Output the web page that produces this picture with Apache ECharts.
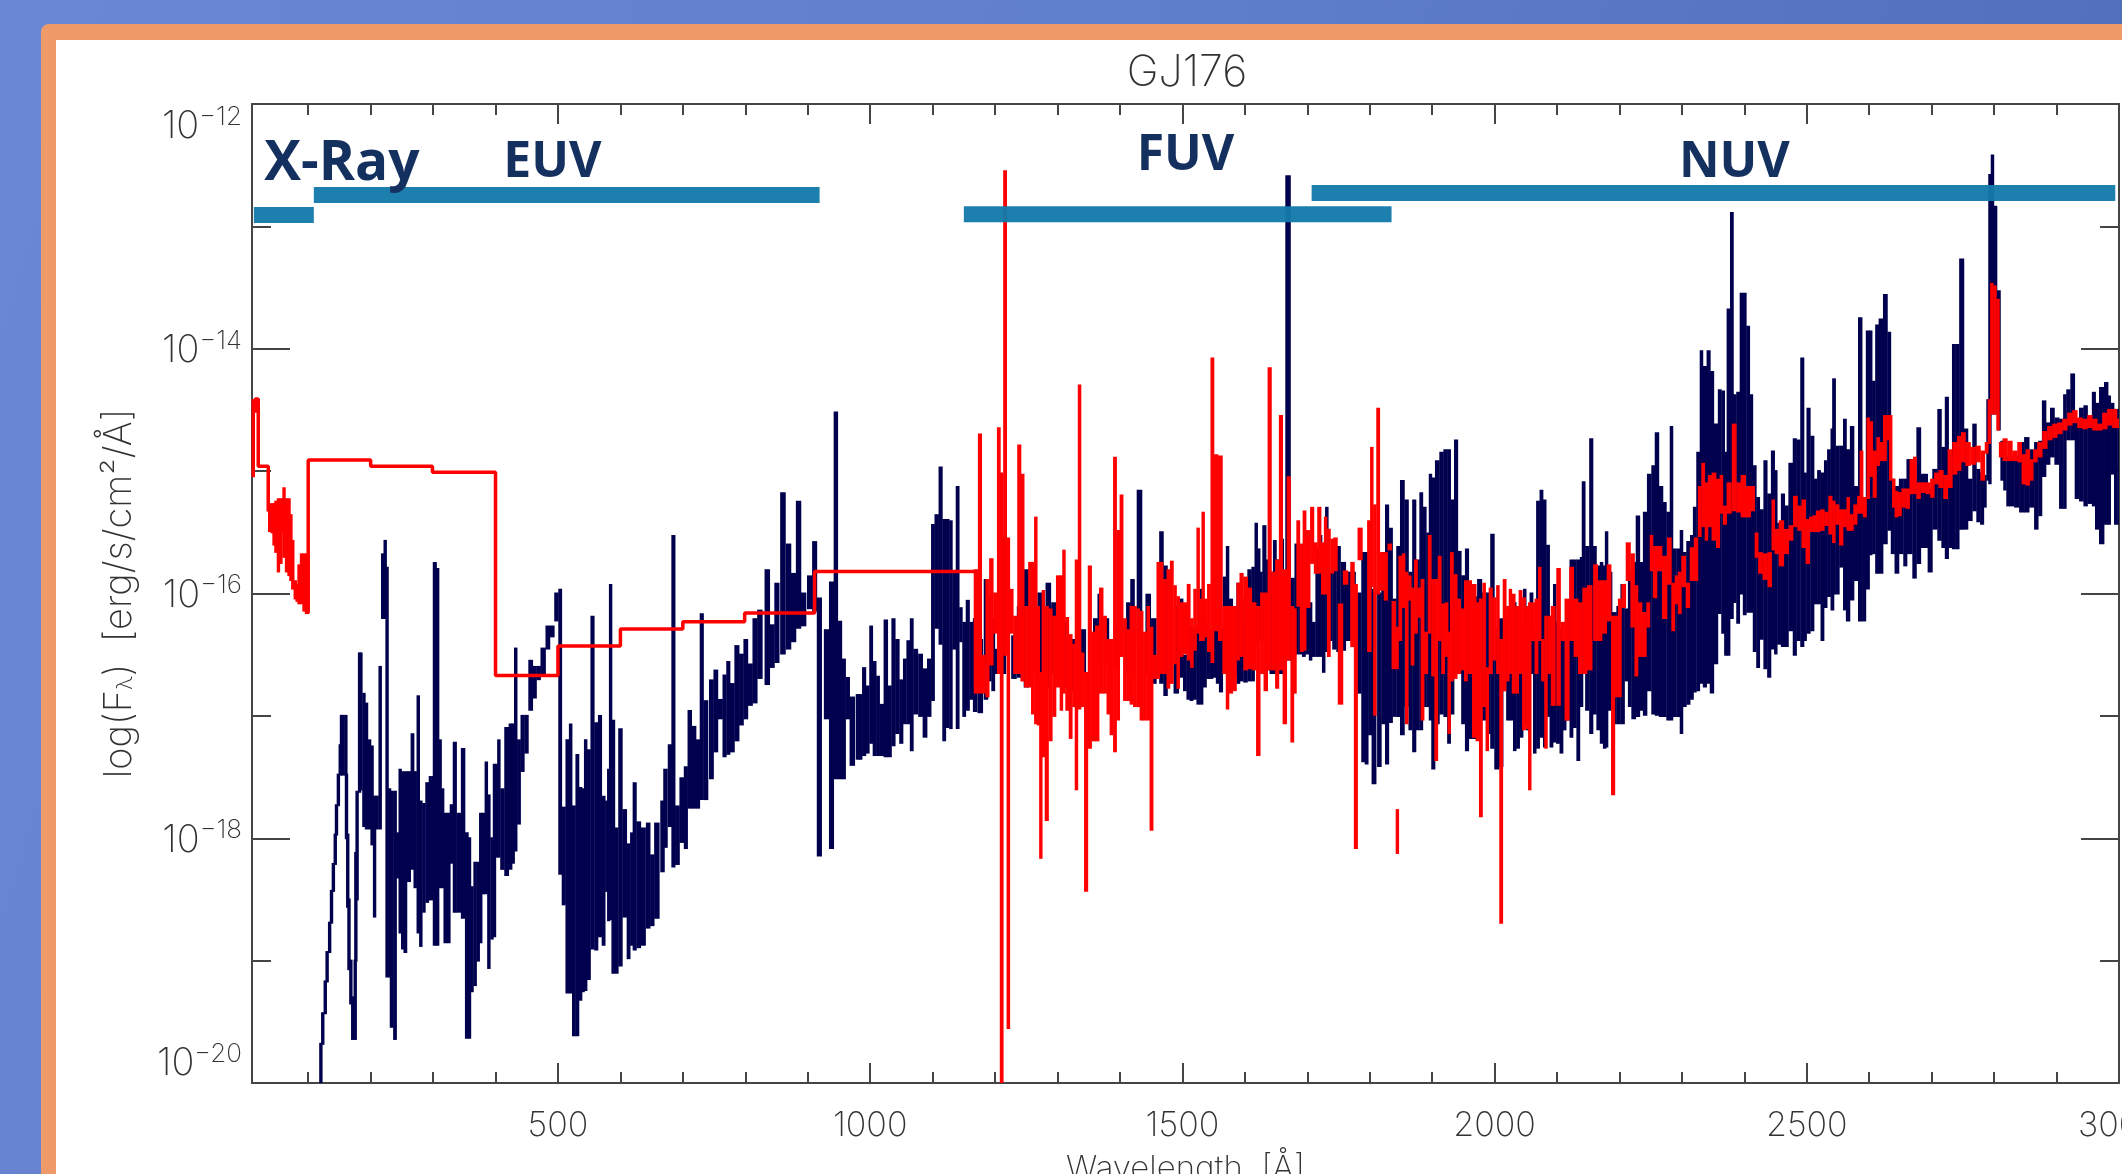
<!DOCTYPE html>
<html>
<head>
    <meta charset="UTF-8">
    <title>GJ176</title>
    <script type="text/javascript" src="https://cdn.jsdelivr.net/npm/echarts@6/dist/echarts.min.js"></script>
    <style>
        html, body { margin: 0; padding: 0; background: #fff; overflow: hidden; }
        #main { width: 2122px; height: 1174px; }
    </style>
</head>
<body>
    <div id="main"></div>
    <script type="text/javascript">
// each row: wavelength (A), low and high log10 flux of that spectrum column
var blueSpectrum = [
[120,-20,-19.68],[123,-19.68,-19.43],[127,-19.43,-19.17],[130,-19.17,-18.93],[134,-18.93,-18.69],[137,-18.69,-18.43],[140,-18.43,-18.21],[143,-18.21,-17.97],[145,-17.97,-17.73],[148,-17.73,-17.48],[151,-17.48,-17.24],[153,-17.24,-17],
[155,-17.48,-17],[160,-17.48,-17],[161,-18,-17.48],[163,-18.56,-17.97],[165,-19.07,-18.5],[168,-19.35,-19],[171,-19.64,-19.3],[175,-19.64,-19],[176,-19,-18.12],[178,-18.5,-17.62],[182,-17.62,-16.49],[184,-17.6,-16.49],[189,-17.9,-16.82],[193,-17.92,-16.9],[198,-17.92,-17.2],[202,-18.05,-17.25],[206,-18.64,-17.66],[210,-17.92,-17.66],[215,-17.92,-16.6],[219,-16.2,-15.68],[223,-16.2,-15.57],[226,-19.13,-15.79],[230,-19.13,-17.6],[233,-19.54,-17.62],[239,-19.64,-17.62],
[243,-18.32,-17.96],[247,-18.77,-17.44],[251,-18.9,-17.46],[255,-18.93,-17.46],[261,-18.35,-17.46],[267,-18.25,-17.15],[271,-18.4,-17.46],[276,-18.77,-16.84],[280,-18.88,-17.7],[285,-18.6,-17.72],[290,-18.52,-17.55],[296,-18.5,-17.5],[303,-18.87,-15.75],[307,-18.87,-15.8],[311,-18.4,-17.2],[315,-18.4,-17.6],[319,-18.85,-17.8],[325,-18.85,-17.8],[329,-18.2,-17.73],[334,-18.6,-17.22],[341,-18.6,-17.8],[348,-18.65,-17.27],[354,-19.63,-17.96],[358,-19.63,-18],[362,-19.25,-18.4],[367,-19.2,-18.2],[372,-19,-18.2],[376,-18.85,-17.8],[380,-18.45,-17.8],[385,-18.45,-17.38],[389,-19.06,-17.65],[394,-18.82,-18],[398,-18.8,-17.4],[402,-18.15,-17.4],[405,-18.15,-17.2],[410,-18.25,-17.6],[418,-18.3,-17.1],[424,-18.25,-17.07],[428,-18.2,-17.07],[432,-18.1,-16.45],[437,-17.88,-17.2],[443,-17.45,-17],[449,-17.3,-17],[456,-16.95,-16.55],[463,-16.85,-16.6],[468,-16.7,-16.6],[476,-16.65,-16.45],[484,-16.45,-16.27],[490,-16.35,-16.27],[498,-16.22,-16],
[503,-18.29,-15.97],[509,-18.54,-17.75],[515,-19.26,-17.2],[520,-19.26,-17.07],[525,-19.61,-17.74],[531,-19.61,-17.32],[536,-19.32,-17.59],[540,-19.25,-17.6],[544,-19.24,-17.2],[549,-19.15,-17.28],[555,-18.9,-16.19],[561,-18.91,-17.06],[567,-18.8,-17],[573,-18.87,-17.66],[578,-18.43,-17.7],[581,-18.67,-17.44],[584,-18.66,-15.93],[588,-19.1,-17.04],[594,-19.1,-17.92],[599,-19.04,-17.11],[607,-18.64,-17.77],[613,-18.98,-18.05],[618,-18.87,-17.96],[622,-18.91,-17.55],[629,-18.89,-17.87],[636,-18.87,-17.92],[645,-18.73,-17.88],[650,-18.71,-18.14],[658,-18.65,-17.88],[668,-18.27,-17.7],[671,-18.07,-17.44],[680,-17.9,-17.24],[684,-18.23,-15.53],[691,-18.21,-17.74],[698,-18.03,-17.51],[705,-18.08,-17.42],[710,-17.75,-16.96],[718,-17.75,-17.09],[724,-17.75,-17.2],[730,-17.68,-16.17],[736,-17.68,-16.88],[746,-17.51,-16.71],[752,-17.29,-16.63],[760,-17.02,-16.87],[767,-17.33,-16.67],[772,-17.31,-16.56],[779,-17.29,-16.74],[786,-17.2,-16.43],[794,-17.07,-16.5],[800,-17.02,-16.38],[808,-16.91,-16.58],[815,-16.89,-16.21],[823,-16.69,-16.14],[835,-16.74,-15.81],[843,-16.6,-16.26],[850,-16.56,-15.92],[860,-16.49,-15.18],[869,-16.45,-15.6],[877,-16.39,-15.84],[885,-16.28,-15.25],[893,-16.26,-16],[903,-16.12,-15.86],[911,-16.14,-15.58],
[918,-18.14,-16.04],[930,-17.02,-16.3],[938,-18.08,-15.91],[945,-17.51,-14.52],[951,-17.51,-16.23],[958,-17.51,-16.54],[963,-17.02,-16.69],[971,-17.4,-16.85],[981,-17.35,-16.83],
[984,-17.35,-16.83],[990,-17.32,-16.61],[996,-17.3,-16.76],[1001,-17.22,-16.27],[1007,-17.32,-16.56],[1012,-17.32,-16.68],[1018,-17.32,-16.91],[1025,-17.33,-16.22],[1031,-17.33,-16.76],[1037,-17.24,-16.21],[1043,-17.14,-16.38],[1050,-17.22,-16.71],[1055,-17.06,-16.54],[1061,-17.06,-16.39],[1066,-17.28,-16.21],[1072,-16.98,-16.46],[1081,-17,-16.5],[1087,-17.17,-16.62],[1095,-17,-16.54],[1100,-16.87,-15.44],[1106,-16.28,-15.36],[1113,-16.41,-14.97],[1118,-17.2,-15.4],[1124,-17.09,-15.4],[1129,-17.1,-15.41],[1134,-16.45,-15.83],[1140,-17.1,-15.13],[1145,-16.39,-16.12],[1150,-17,-16.24],[1156,-16.95,-16.06],[1162,-16.86,-16.24],[1167,-16.96,-16.21],[1176,-16.97,-16.38],[1186,-16.86,-15.89],[1191,-16.71,-16.03],[1197,-16.79,-16.21],[1202,-16.65,-16.46],[1213,-16.65,-15.55],[1230,-16.69,-16.35],[1239,-16.68,-16.11],[1250,-16.76,-15.81],[1259,-16.65,-15.78],[1272,-16.76,-16],[1285,-16.76,-15.92],[1294,-16.65,-16.08],[1309,-16.76,-16.24],[1325,-16.79,-16.38],[1341,-16.65,-16.3],[1361,-16.65,-16.21],[1367,-16.65,-16.01],[1378,-16.57,-16.21],[1394,-16.62,-16.27],[1414,-16.65,-16.08],[1419,-16.65,-15.89],[1431,-16.43,-15.16],[1445,-16.65,-16.01],[1454,-16.73,-16.21],[1467,-16.73,-15.5],[1472,-16.83,-15.78],[1480,-16.71,-16.11],[1490,-16.81,-16.11],
[1498,-16.68,-16.05],[1504,-16.79,-16.51],[1509,-16.86,-16.24],[1514,-16.87,-16.27],[1520,-16.86,-16.3],[1525,-16.9,-16.27],[1530,-16.9,-15.97],[1536,-16.76,-16.3],[1541,-16.69,-16.24],[1546,-16.69,-16.3],[1552,-16.68,-16.11],[1556,-16.73,-15.67],[1561,-16.8,-16.3],[1568,-16.61,-15.87],[1572,-16.61,-15.62],[1577,-16.54,-16.05],[1584,-16.65,-16.11],[1589,-16.73,-15.92],[1595,-16.71,-16.27],[1600,-16.72,-16.05],[1608,-16.71,-15.81],[1613,-16.71,-15.79],[1618,-16.41,-15.43],[1622,-16.38,-15.64],[1625,-16.38,-15.83],[1631,-16.38,-15.45],[1637,-16.62,-15.73],[1642,-16.65,-15.83],[1648,-16.65,-15.57],[1653,-16.65,-15.73],[1658,-16.65,-15.56],[1669,-16.54,-12.59],[1677,-16.54,-15.88],[1682,-16.49,-15.6],[1689,-16.49,-15.83],[1694,-16.51,-15.94],[1700,-16.49,-16.11],[1705,-16.54,-16.08],[1710,-16.51,-16.24],[1716,-16.51,-15.64],[1721,-16.51,-15.53],[1726,-16.64,-15.83],[1731,-16.47,-15.3],[1736,-16.38,-15.83],[1744,-16.45,-15.62],[1749,-16.47,-15.62],[1758,-16.46,-15.75],[1765,-16.38,-15.83],[1773,-16.38,-15.83],[1784,-16.81,-16],[1789,-17.37,-15.67],[1795,-17.39,-15.67],[1800,-17.15,-15.67],[1806,-17.55,-15.97],[1816,-17.41,-16],[1821,-17.06,-15.67],[1828,-17.39,-15.28],[1833,-17.05,-15.47],[1840,-17,-16.05],[1845,-17,-15.62],[1852,-17.15,-15.08],[1859,-16.92,-15.24],[1865,-17.11,-15.83],[1871,-17.29,-15.24],[1877,-17.11,-15.73],[1882,-17.11,-15.18],[1888,-16.92,-15.3],[1893,-16.92,-15.51],[1897,-17.03,-15.03],[1901,-17.43,-15.06],[1908,-17.06,-14.92],[1915,-16.98,-14.85],[1921,-17,-14.83],[1927,-17.22,-14.83],[1932,-16.98,-15.24],[1938,-16.65,-14.75],[1944,-16.65,-15.66],[1949,-17.06,-15.86],[1956,-17.28,-15.64],[1961,-17.18,-16.03],[1968,-17.18,-16.03],[1976,-17,-15.89],[1983,-17.03,-16],[1990,-17.14,-16],[1996,-17.26,-15.52],[2003,-17.43,-16.3],
[2011,-17.41,-16.21],[2016,-16.79,-16.16],[2021,-17.03,-16.21],[2027,-17.03,-16.38],[2032,-17.28,-16.08],[2037,-17.26,-16.38],[2043,-17.17,-16.24],[2048,-17.06,-15.97],[2053,-17.11,-16.16],[2059,-16.65,-16],[2064,-17.3,-16.3],[2069,-17.26,-15.25],[2075,-17.17,-15.16],[2080,-17.25,-15.24],[2085,-17,-15.61],[2091,-17.25,-16.19],[2096,-17.21,-15.93],[2101,-17.22,-16.24],[2107,-17.3,-16.3],[2112,-17.11,-16.38],[2117,-17.03,-16.11],[2123,-17.17,-15.73],[2128,-17.09,-15.73],[2134,-17.36,-15.73],[2139,-16.92,-15.71],[2142,-16.65,-15.09],[2148,-16.95,-15.62],[2155,-17.14,-14.74],[2160,-16.98,-15.62],[2166,-17.11,-15.78],[2171,-17.22,-15.75],[2176,-17.26,-15.78],[2179,-17.25,-15.5],[2184,-16.95,-15.83],[2192,-17.06,-16.16],[2198,-17.06,-16.11],[2205,-17.06,-15.93],[2211,-16.71,-16.13],[2216,-16.92,-15.83],[2222,-17.02,-15.75],[2230,-17,-15.37],[2235,-16.95,-15.75],[2240,-16.99,-15.34],[2248,-16.79,-15.03],[2254,-16.98,-14.96],[2259,-16.99,-14.69],[2267,-17,-15.13],[2272,-17,-15.26],[2278,-17.03,-15.34],[2283,-17.03,-14.64],[2288,-17,-15.64],[2294,-17,-15.64],[2299,-17.14,-15.49],[2304,-16.92,-15.67],[2310,-16.9,-15.58],[2316,-16.86,-15.53],[2320,-16.8,-15.3],[2326,-16.79,-14.85],[2331,-16.73,-14.02],[2336,-16.76,-14.15],[2343,-16.73,-14.02],[2347,-16.81,-14.19],[2355,-16.57,-14.62],[2360,-16.16,-14.34],[2366,-16.32,-14.35],[2370,-16.5,-14.85],[2374,-16.5,-13.68],[2380,-16.2,-12.89],[2384,-16.07,-14.38],[2390,-16.24,-14.36],[2395,-16,-13.55],[2400,-16.17,-13.55],[2406,-16.15,-13.82],[2411,-16.15,-14.38],[2416,-16.47,-14.96],[2422,-16.6,-15.22],[2427,-16.37,-15.32],[2434,-16.61,-14.92],[2439,-16.68,-15.19],[2446,-16.45,-14.84],[2450,-16.49,-15],[2455,-16.41,-15.43],[2462,-16.43,-15.19],[2467,-16.43,-15.29],[2474,-16.3,-14.94],[2481,-16.5,-14.74],[2486,-16.38,-14.75],[2493,-16.43,-14.08],[2497,-16.38,-15.02],[2502,-16.32,-14.49],
[2509,-16.3,-14.72],[2514,-16.08,-15.07],[2519,-16.08,-15],[2525,-16.38,-15.02],[2530,-16.11,-14.92],[2535,-16.02,-14.83],[2541,-16.13,-14.66],[2543,-16,-14.25],[2549,-16,-14.8],[2555,-15.78,-14.8],[2561,-16.13,-14.58],[2565,-16.22,-14.83],[2573,-16.05,-14.64],[2578,-15.89,-15.13],[2586,-16.22,-13.75],[2591,-16.22,-15.22],[2598,-15.96,-13.86],[2602,-15.68,-13.86],[2607,-15.67,-14.27],[2612,-15.83,-13.81],[2618,-15.83,-13.76],[2626,-15.59,-13.56],[2632,-15.48,-13.87],[2637,-15.67,-15.07],[2644,-15.83,-15.13],[2651,-15.67,-15.07],[2658,-15.77,-15.07],[2662,-15.67,-14.91],[2666,-15.67,-14.91],[2672,-15.87,-15.15],[2679,-15.75,-14.65],[2686,-15.62,-15.03],[2690,-15.62,-15.03],[2697,-15.82,-15.15],[2705,-15.47,-14.99],[2713,-15.56,-14.5],[2718,-15.62,-14.81],[2724,-15.71,-14.4],[2730,-15.62,-14.94],[2735,-15.63,-13.97],[2740,-15.63,-13.97],[2748,-15.47,-13.27],[2755,-15.47,-14.66],[2761,-15.4,-15.07],[2769,-15.32,-14.62],[2774,-15.41,-14.99],[2781,-15.43,-15.02],[2785,-15.29,-15.04],[2790,-15.07,-14.42],[2793,-15.1,-12.58],[2797,-14.53,-12.42],[2802,-14.53,-12.84],[2807,-14.66,-13.53],[2813,-15.07,-14.76],[2817,-15.15,-14.88],[2822,-15.28,-14.88],[2828,-15.28,-14.88],[2836,-15.29,-14.88],[2844,-15.33,-14.77],[2852,-15.33,-14.73],[2860,-15.29,-14.83],[2868,-15.47,-14.77],[2873,-15.36,-14.76],[2880,-15.04,-14.43],[2886,-14.94,-14.61],[2893,-14.88,-14.49],[2900,-14.94,-14.57],[2908,-15.3,-14.58],[2913,-15.3,-14.38],[2918,-14.74,-14.34],[2926,-14.74,-14.21],[2932,-15.22,-14.58],[2940,-15.24,-14.49],[2946,-15.28,-14.47],[2953,-15.26,-14.64],[2960,-15.28,-14.36],[2964,-15.47,-14.45],[2972,-15.59,-14.32],[2980,-15.43,-14.28],[2984,-15.43,-14.39],[2989,-15.02,-14.45],[2995,-15.43,-14.5],[3000,-15.43,-14.5]
];

var redSpectrum = [
[38,-15.49,-15.27],[42,-15.5,-15.27],[45,-15.6,-15.27],[48,-15.66,-15.25],[52,-15.82,-15.23],[56,-15.75,-15.23],[59,-15.49,-15.23],[61,-15.7,-15.14],[65,-15.82,-15.23],[69,-15.85,-15.23],[72,-15.89,-15.36],[75,-15.96,-15.57],[79,-16.04,-15.9],[82,-16.06,-15.93],[85,-16.08,-15.77],[89,-16.08,-15.68],[93,-16.14,-15.68],[97,-16.16,-15.68],
[1170,-16.81,-15.81],[1175,-16.81,-14.7],[1182,-16.81,-16.51],[1187,-16.84,-15.89],[1194,-16.58,-15.72],[1200,-16.32,-16],[1206,-16.65,-14.65],[1210,-20,-15.02],[1216,-16.5,-12.55],[1221,-19.55,-15.55],[1226,-16.32,-15.97],[1232,-16.65,-16.19],[1239,-16.65,-14.79],[1243,-16.71,-15.03],[1250,-16.76,-16.11],[1256,-16.76,-15.75],[1260,-16.98,-15.75],[1265,-17.06,-15.38],[1269,-17.07,-16.11],[1273,-18.16,-16.65],[1277,-17.33,-15.98],[1282,-17.85,-16.11],[1289,-17.2,-16.13],[1294,-17,-16.19],[1301,-16.76,-15.86],[1306,-16.95,-15.86],[1310,-16.81,-15.65],[1315,-16.95,-16.2],[1321,-17.18,-16.34],[1326,-16.92,-16.42],[1330,-17.6,-15.73],[1335,-16.94,-14.3],[1340,-16.92,-16.49],[1345,-18.43,-16.65],[1352,-17.26,-15.78],[1357,-17.2,-16.32],[1363,-17.2,-16.27],[1370,-16.81,-15.96],[1376,-16.81,-16.19],[1381,-16.98,-16.38],[1386,-17.15,-16.38],[1392,-17.29,-14.89],[1397,-17.03,-15.49],[1402,-16.51,-15.2],[1408,-16.87,-16.21],[1413,-16.87,-16.3],[1418,-16.9,-16.11],[1424,-16.92,-16.11],[1429,-16.92,-16.13],[1434,-17.03,-16.15],[1440,-17.03,-16.32],[1445,-17.03,-16.11],[1450,-17.93,-16.28],[1456,-16.69,-16.51],[1461,-16.69,-15.75],[1466,-16.65,-15.75],[1472,-16.65,-15.89],[1477,-16.77,-15.81],[1483,-16.73,-15.74],[1488,-16.57,-15.94],[1493,-16.77,-16.03],
[1498,-16.51,-16.08],[1504,-16.49,-16.08],[1510,-16.54,-15.93],[1515,-16.6,-16.21],[1520,-16.46,-15.97],[1525,-16.32,-15.47],[1529,-16.38,-16.05],[1533,-16.38,-15.34],[1537,-16.35,-16.05],[1542,-16.47,-15.93],[1548,-16.56,-14.08],[1553,-16.3,-14.87],[1561,-16.38,-14.88],[1567,-16.65,-16.11],[1572,-16.94,-16.11],[1577,-16.81,-16.11],[1584,-16.79,-16.11],[1589,-16.54,-15.92],[1594,-16.51,-15.84],[1601,-16.62,-15.87],[1608,-16.61,-15.96],[1614,-16.62,-16.08],[1622,-17.32,-16.11],[1627,-16.65,-16],[1633,-16.79,-16],[1640,-16.62,-14.16],[1645,-16.62,-15.83],[1652,-16.77,-15.73],[1657,-16.62,-14.55],[1664,-17.06,-15.81],[1670,-16.54,-15.05],[1676,-17.21,-16.11],[1680,-16.81,-16.13],[1685,-16.1,-15.41],[1691,-16.47,-15.6],[1695,-16.46,-15.33],[1701,-16.11,-15.49],[1708,-15.75,-15.3],[1713,-15.83,-15.59],[1719,-15.83,-15.3],[1725,-16,-15.59],[1729,-16,-15.38],[1734,-16.51,-15.48],[1740,-15.83,-15.56],[1744,-15.81,-15.55],[1753,-16.9,-16.09],[1761,-15.92,-15.82],[1773,-16.43,-15.75],[1777,-18.08,-15.93],[1784,-15.72,-15.47],[1800,-16.47,-15.41],[1803,-15.94,-14.81],[1808,-16.99,-15.28],[1813,-16,-14.49],[1819,-15.97,-15.67],[1826,-16.05,-15.67],[1831,-15.64,-15.6],[1839,-16.61,-16.07],[1843,-16.61,-16.28],[1849,-16.38,-15.7],[1854,-16.11,-15.68],[1859,-17.06,-15.83],[1864,-16.05,-15.86],[1868,-16.58,-15.96],[1874,-16.32,-15.73],[1879,-16.19,-15.96],[1884,-17.03,-15.89],[1890,-16.65,-16.32],[1896,-16.32,-15.53],[1901,-16.67,-15.89],[1906,-17.36,-15.89],[1912,-16.38,-15.7],[1917,-16.65,-16.09],[1923,-16.51,-16.08],[1927,-17.14,-16.32],[1931,-16.71,-15.67],[1937,-16.69,-15.85],[1943,-16.65,-16.05],[1948,-16.62,-16.13],[1954,-16.71,-15.9],[1959,-16.65,-15.9],[1968,-17.17,-15.93],[1972,-17.2,-16.08],[1978,-17.82,-16.05],[1983,-16.92,-15.92],[1988,-17.28,-16.61],[1993,-16.65,-15.96],[2000,-16.54,-16.04],[2005,-16.65,-15.94],
[2010,-18.69,-16.38],[2016,-16.79,-15.89],[2021,-16.71,-16.11],[2025,-16.65,-15.97],[2030,-16.81,-16.01],[2036,-16.81,-16.11],[2041,-16.65,-15.98],[2047,-17.11,-16.04],[2052,-17.1,-16.11],[2056,-17.6,-16.08],[2061,-16.38,-16.08],[2067,-16.65,-16.05],[2072,-16.38,-15.79],[2077,-16.71,-16.38],[2082,-17.26,-16.19],[2087,-16.65,-16.19],[2093,-16.91,-16.11],[2103,-16.91,-15.8],[2108,-16.38,-16.24],[2116,-17.03,-16.05],[2123,-16.38,-15.79],[2130,-16.51,-16.05],[2137,-16.65,-16.08],[2144,-16.65,-15.96],[2152,-16.62,-15.94],[2162,-16.38,-15.77],[2168,-16.38,-15.9],[2176,-16.32,-15.9],[2183,-16.22,-15.77],[2190,-17.64,-16.19],[2195,-16.84,-16.19],[2200,-16.84,-16.05],[2206,-16.11,-15.93],[2214,-15.89,-15.59],[2221,-16.27,-15.68],[2227,-16.67,-15.94],[2232,-16.51,-16.08],[2240,-16.51,-16.16],[2246,-16.27,-16.08],[2251,-15.81,-15.53],[2256,-16.03,-15.62],[2264,-15.81,-15.62],[2272,-16.2,-15.7],[2280,-15.92,-15.55],[2286,-16.3,-15.92],[2291,-16.08,-15.86],[2296,-16.16,-15.83],[2302,-15.94,-15.7],[2310,-16.11,-15.92],[2315,-15.89,-15.63],[2323,-15.89,-15.55],[2328,-15.53,-15.13],[2334,-15.45,-14.94],[2339,-15.56,-15.1],[2344,-15.45,-15.04],[2351,-15.56,-15.02],[2358,-15.62,-15.07],[2363,-15.34,-15.04],[2368,-15.43,-15.29],[2375,-15.34,-15.1],[2384,-15.32,-14.62],[2390,-15.33,-15.1],[2398,-15.37,-15.04],[2406,-15.37,-15.13],[2414,-15.32,-15.13],[2419,-15.7,-15.51],[2425,-15.83,-15.67],[2433,-15.88,-15.68],[2441,-15.94,-15.67],[2446,-15.64,-15.24],[2451,-15.67,-15.48],[2459,-15.77,-15.41],[2467,-15.67,-15.48],[2475,-15.56,-15.45],[2481,-15.45,-15.21],[2489,-15.48,-15.29],[2494,-15.62,-15.24],[2502,-15.75,-15.4],
[2506,-15.49,-15.38],[2511,-15.49,-15.37],[2518,-15.49,-15.33],[2525,-15.48,-15.32],[2531,-15.44,-15.34],[2538,-15.51,-15.21],[2543,-15.58,-15.25],[2548,-15.43,-15.28],[2555,-15.6,-15.32],[2561,-15.45,-15.32],[2566,-15.48,-15.22],[2571,-15.48,-15.36],[2578,-15.43,-15.28],[2583,-15.34,-15.21],[2587,-15.34,-14.84],[2593,-15.37,-15.22],[2598,-15.22,-14.57],[2602,-15.04,-14.6],[2609,-15.21,-14.84],[2614,-14.95,-14.73],[2619,-14.91,-14.77],[2625,-14.91,-14.55],[2630,-14.74,-14.55],[2634,-15.07,-14.55],[2639,-15.29,-15.07],[2643,-15.37,-15.17],[2649,-15.36,-15.18],[2654,-15.29,-15.15],[2662,-15.3,-15.15],[2667,-15.18,-14.91],[2673,-15.18,-14.89],[2678,-15.22,-15.1],[2686,-15.17,-15.1],[2694,-15.18,-15.1],[2701,-15.21,-15.07],[2707,-15.1,-15.02],[2715,-15.13,-15],[2722,-15.22,-15.04],[2729,-15.13,-14.83],[2737,-15.02,-14.77],[2744,-14.99,-14.72],[2750,-14.92,-14.69],[2758,-14.95,-14.77],[2766,-14.94,-14.81],[2774,-14.92,-14.8],[2782,-15.07,-14.84],[2788,-14.85,-14.77],[2792,-14.77,-14.42],[2796,-14.53,-13.47],[2801,-14.53,-13.49],[2806,-14.66,-13.6],[2810,-14.88,-14.77],[2817,-14.91,-14.74],[2825,-14.91,-14.76],[2833,-14.91,-14.84],[2841,-14.92,-14.77],[2847,-15.1,-14.87],[2854,-15.11,-14.83],[2860,-15.07,-14.91],[2865,-14.92,-14.83],[2873,-14.88,-14.77],[2881,-14.81,-14.68],[2889,-14.74,-14.64],[2897,-14.72,-14.62],[2905,-14.69,-14.61],[2913,-14.66,-14.58],[2921,-14.62,-14.53],[2929,-14.6,-14.51],[2937,-14.64,-14.57],[2945,-14.65,-14.58],[2953,-14.64,-14.55],[2961,-14.66,-14.58],[2969,-14.66,-14.62],[2977,-14.65,-14.53],[2985,-14.62,-14.5],[2993,-14.64,-14.5],[3000,-14.64,-14.58]
];

// the stepped parts of the red curve, drawn as a line: X-ray start and the EUV bins
var redStepsXray = [[12,-15.05,-14.41],[15,-14.52,-14.41],[20,-14.96,-14.96],[36,-15.33,-15.33]];
var redStepsEuv = [[100,-16.16,-14.91],[200,-14.96,-14.96],[299,-15.01,-15.01],[400,-16.67,-16.67],[500,-16.67,-16.43],[600,-16.43,-16.29],[700,-16.29,-16.23],[799,-16.23,-16.16],[911,-16.16,-15.82],[1170,-16.81,-15.81]];

// the short red piece standing alone below the main curve
var redIsolated = [[1844,-18.12,-17.77]];

var bandNames = ['X-Ray', 'EUV', 'FUV', 'NUV'];
var bandStart = [13, 109, 1150, 1707];
var bandEnd = [109, 919, 1835, 2994];
var bandLevel = [-12.907, -12.743, -12.9, -12.727];
var bandLabelWave = [154, 491, 1505, 2384];
var bandLabelLevel = [-12.491, -12.482, -12.425, -12.482];

var xLabelTicks = [500, 1000, 1500, 2000, 2500, 3000];
var xMinorTicks = [100, 200, 300, 400, 600, 700, 800, 900, 1100, 1200, 1300, 1400, 1600, 1700, 1800, 1900, 2100, 2200, 2300, 2400, 2600, 2700, 2800, 2900];

var thinFont = 'Inter';
var inkColor = '#444';

// turn [wave, low, high] columns into a histogram style path
function toPath(columns) {
    var path = [];
    for (var i = 0; i < columns.length; i++) {
        var c = columns[i];
        if (i > 0) path.push([c[0], columns[i - 1][2]]);
        path.push([c[0], c[1]]);
        path.push([c[0], c[2]]);
    }
    return path;
}

function stepSeries(name, color, columns) {
    return {
        name: name,
        type: 'line',
        data: toPath(columns),
        showSymbol: false,
        symbol: 'none',
        sampling: false,
        clip: true,
        z: 4,
        lineStyle: { color: color, width: 3.5, join: 'bevel', cap: 'butt' },
        emphasis: { disabled: true },
        silent: true
    };
}

// solid columns, each as wide as the gap to its neighbours
function columnSeries(name, color, columns, z) {
    return {
        name: name,
        type: 'custom',
        data: columns,
        clip: true,
        silent: true,
        z: z,
        encode: { x: 0, y: [1, 2] },
        renderItem: function (params, api) {
            var i = params.dataIndex;
            var x = columns[i][0];
            var low = api.coord([x, columns[i][1]]);
            var high = api.coord([x, columns[i][2]]);
            var prev = i > 0 ? api.coord([columns[i - 1][0], 0])[0] : low[0] - 3;
            var next = i < columns.length - 1 ? api.coord([columns[i + 1][0], 0])[0] : low[0] + 3;
            var left = Math.max((low[0] - prev) / 2, 1.5);
            var right = Math.max((next - low[0]) / 2, 1.5);
            left = Math.min(left, 2.6);
            right = Math.min(right, 2.6);
            return {
                type: 'rect',
                shape: { x: low[0] - left, y: high[1] - 1, width: left + right + 0.4, height: low[1] - high[1] + 2 },
                style: { fill: color }
            };
        }
    };
}

function xAxisFor(position, ticks, length, showLine, showLabels) {
    return {
        type: 'value',
        position: position,
        min: 10,
        max: 3000,
        splitLine: { show: false },
        axisLine: { show: showLine, onZero: false, lineStyle: { color: inkColor, width: 2 } },
        axisTick: { show: true, inside: true, length: length, customValues: ticks, lineStyle: { color: inkColor, width: 2 } },
        axisLabel: {
            show: showLabels,
            customValues: ticks,
            margin: 26,
            color: '#333',
            fontFamily: thinFont,
            fontWeight: 200,
            fontSize: 34,
            formatter: function (v) { return String(v); }
        }
    };
}

function yAxisFor(position, showLabels) {
    return {
        type: 'value',
        position: position,
        min: -20,
        max: -12,
        interval: 2,
        splitLine: { show: false },
        minorSplitLine: { show: false },
        axisLine: { show: true, onZero: false, lineStyle: { color: inkColor, width: 2 } },
        axisTick: { show: true, inside: true, length: 38, lineStyle: { color: inkColor, width: 2 } },
        minorTick: { show: true, splitNumber: 2, length: 19, lineStyle: { color: inkColor, width: 2 } },
        axisLabel: {
            show: showLabels,
            margin: 10,
            verticalAlignMinLabel: 'bottom',
            verticalAlignMaxLabel: 'top',
            formatter: function (v) { return '{base|10}{exp|\u2212' + Math.abs(v) + '}'; },
            rich: {
                base: { fontFamily: thinFont, fontWeight: 200, fontSize: 38, color: '#333', lineHeight: 42, verticalAlign: 'bottom' },
                exp: { fontFamily: thinFont, fontWeight: 200, fontSize: 26, color: '#333', verticalAlign: 'top', lineHeight: 22 }
            }
        }
    };
}

var xBottom = xAxisFor('bottom', xLabelTicks, 20, true, true);
xBottom.name = 'Wavelength  [\u00c5]';
xBottom.nameLocation = 'middle';
xBottom.nameGap = 70;
xBottom.nameTextStyle = { fontFamily: thinFont, fontWeight: 200, fontSize: 33, color: '#333' };

var yLeft = yAxisFor('left', true);
yLeft.name = 'log(F{sub|\u03bb})  [erg/s/cm\u00b2/\u00c5]';
yLeft.nameLocation = 'middle';
yLeft.nameGap = 113;
yLeft.nameRotate = 90;
yLeft.nameTextStyle = {
    fontFamily: thinFont, fontWeight: 200, fontSize: 38, color: '#333',
    rich: { sub: { fontFamily: thinFont, fontWeight: 200, fontSize: 22, color: '#333', padding: [10, 0, 0, 0] } }
};

var chart = echarts.init(document.getElementById('main'), null, { renderer: 'canvas' });

var option = {
    animation: false,
    title: {
        text: 'GJ176',
        left: 1182,
        top: 47,
        textAlign: 'center',
        textStyle: { fontFamily: thinFont, fontWeight: 200, fontSize: 43, color: '#333' }
    },
    grid: { left: 252, right: 3, top: 104, bottom: 91, outerBoundsMode: 'none' },
    graphic: [
        {
            type: 'rect', z: -30, silent: true,
            shape: { x: 0, y: 0, width: 2122, height: 1174 },
            style: {
                fill: new echarts.graphic.LinearGradient(0, 0, 1, 0.55, [
                    { offset: 0, color: '#6a87d4' },
                    { offset: 0.5, color: '#5f7ecb' },
                    { offset: 1, color: '#4f6db9' }
                ])
            }
        },
        {
            type: 'rect', z: -20, silent: true,
            shape: { x: 41, y: 24, width: 2200, height: 1300, r: 8 },
            style: { fill: '#ef9b69' }
        },
        {
            type: 'rect', z: -10, silent: true,
            shape: { x: 56, y: 40, width: 2200, height: 1300 },
            style: { fill: '#ffffff' }
        }
    ],
    xAxis: [
        xBottom,
        xAxisFor('bottom', xMinorTicks, 11, false, false),
        xAxisFor('top', xLabelTicks, 20, true, false),
        xAxisFor('top', xMinorTicks, 11, false, false)
    ],
    yAxis: [yLeft, yAxisFor('right', false)],
    series: [
        columnSeries('GJ176 observed', '#00004e', blueSpectrum, 3),
        columnSeries('GJ176 model', '#ff0000', redSpectrum, 4),
        columnSeries('GJ176 model piece', '#ff0000', redIsolated, 4),
        stepSeries('GJ176 model X-ray steps', '#ff0000', redStepsXray),
        stepSeries('GJ176 model EUV steps', '#ff0000', redStepsEuv),
        {
            type: 'custom',
            name: 'bands',
            z: 5,
            clip: false,
            silent: true,
            data: bandNames.map(function (n, i) { return [bandStart[i], bandEnd[i], bandLevel[i]]; }),
            encode: { x: [0, 1], y: 2 },
            renderItem: function (params, api) {
                var a = api.coord([api.value(0), api.value(2)]);
                var b = api.coord([api.value(1), api.value(2)]);
                return {
                    type: 'rect',
                    shape: { x: a[0], y: a[1] - 8, width: b[0] - a[0], height: 16 },
                    style: { fill: '#137aaa', opacity: 0.96 }
                };
            }
        },
        {
            type: 'scatter',
            name: 'band labels',
            z: 6,
            symbolSize: 0,
            silent: true,
            itemStyle: { opacity: 1 },
            data: bandNames.map(function (n, i) {
                var item = { name: n, value: [bandLabelWave[i], bandLabelLevel[i]] };
                if (n === 'X-Ray') item.label = { fontSize: 55 };
                return item;
            }),
            label: {
                show: true,
                position: 'inside',
                formatter: '{b}',
                opacity: 1,
                fontFamily: 'Open Sans',
                fontWeight: 700,
                fontSize: 50,
                color: '#14305f'
            }
        }
    ]
};

chart.setOption(option);
    </script>
</body>
</html>
